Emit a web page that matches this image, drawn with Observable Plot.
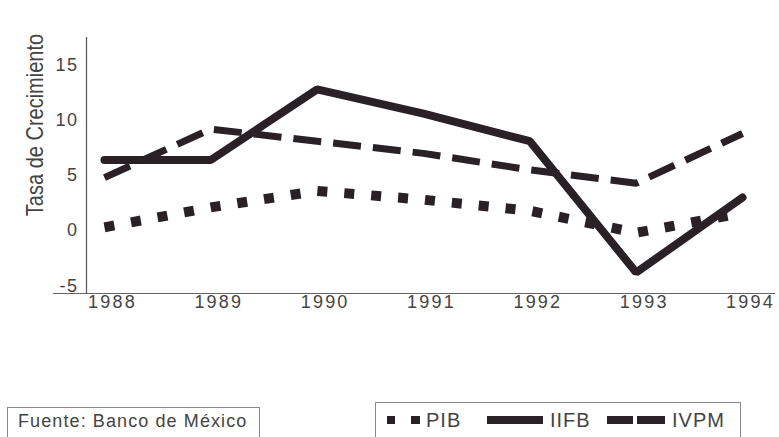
<!DOCTYPE html>
<html>
<head>
<meta charset="utf-8">
<script src="https://cdn.jsdelivr.net/npm/d3@7"></script>
<script src="https://cdn.jsdelivr.net/npm/@observablehq/plot@0.6"></script>
<style>
  html, body { margin: 0; padding: 0; background: #fff; }
  body { width: 779px; height: 437px; overflow: hidden; position: relative; font-family: "Liberation Sans", Arial, sans-serif; color: #444; }
  #chart { position: absolute; left: 0; top: 0; }
  g[aria-label="x-axis tick label"] text { letter-spacing: 2.2px; }
  g[aria-label="y-axis tick label"] text { letter-spacing: 1.5px; }
  #ylabel { position: absolute; left: 35px; top: 125px; font-size: 20px; line-height: 20px; white-space: nowrap; color: #444;
            transform: translate(-50%, -50%) rotate(-90deg) scaleY(1.2); }
  .box { position: absolute; border: 1px solid #8a8a8a; border-bottom: none; box-sizing: border-box; }
  .txt { position: absolute; font-size: 20px; line-height: 20px; letter-spacing: 1px; color: #444; white-space: nowrap; }
  .sw { position: absolute; background: #2a2127; }
</style>
</head>
<body>
<div id="chart"></div>
<div id="ylabel"></div>
<div class="box" style="left:7px; top:407px; width:253px; height:60px;"></div>
<div id="source" class="txt" style="left:18px; top:411px; font-size:18px; letter-spacing:1.1px;"></div>
<div class="box" style="left:375px; top:402px; width:366px; height:60px;"></div>
<div id="legend"></div>
<script>
const years = [1988, 1989, 1990, 1991, 1992, 1993, 1994];
const pib  = [0.3, 2.1, 3.6, 2.8, 1.8, -0.2, 1.6];
const iifb = [6.4, 6.4, 12.8, 10.6, 8.1, -3.8, 3.0];
const ivpm = [4.8, 9.2, 8.1, 7.0, 5.5, 4.3, 8.8];
const yTicks = [-5, 0, 5, 10, 15];
const seriesNames = ["PIB", "IIFB", "IVPM"];
const yLabel = "Tasa de Crecimiento";
const source = "Fuente: Banco de México";

const xDomain = [1987.831, 1994.31];
const yDomain = [-5.7, 17.5];
const ink = "#2a2127";

document.getElementById("source").textContent = source;
document.getElementById("ylabel").textContent = yLabel;

const rows = (vals) => years.map((year, i) => ({year, value: vals[i]}));

const chart = Plot.plot({
  width: 779,
  height: 330,
  marginLeft: 86,
  marginRight: 4,
  marginTop: 37,
  marginBottom: 37,
  style: {fontFamily: "'Liberation Sans', Arial, sans-serif", fontSize: "18px", color: "#444", background: "transparent"},
  x: {domain: xDomain},
  y: {domain: yDomain},
  marks: [
    Plot.axisY({ticks: yTicks, tickFormat: d => String(d), tickSize: 0, tickPadding: 8, fontSize: 18, label: null}),
    Plot.axisX({ticks: years, tickFormat: d => String(d), tickSize: 0, tickPadding: 2, dx: 8, fontSize: 18, label: null}),
    Plot.ruleY([yDomain[0]], {stroke: "#666", strokeWidth: 1.2, insetLeft: -33}),
    Plot.frame({anchor: "left", stroke: "#555", strokeWidth: 1.2}),
    Plot.lineY(rows(ivpm), {x: "year", y: "value", stroke: ink, strokeWidth: 7, strokeDasharray: "28 12", strokeLinecap: "butt"}),
    Plot.lineY(rows(pib), {x: "year", y: "value", stroke: ink, strokeWidth: 10, strokeDasharray: "10 17", strokeLinecap: "butt"}),
    Plot.lineY(rows(iifb), {x: "year", y: "value", stroke: ink, strokeWidth: 8, strokeLinejoin: "miter"})
  ]
});
document.getElementById("chart").appendChild(chart);

// Legend (HTML, below the SVG)
const legend = document.getElementById("legend");
const legendItems = [
  {name: seriesNames[0], swatches: [[387, 8], [411, 9]], textLeft: 426},
  {name: seriesNames[1], swatches: [[487, 56]], textLeft: 550},
  {name: seriesNames[2], swatches: [[607, 26], [637, 28]], textLeft: 672}
];
for (const item of legendItems) {
  for (const [left, w] of item.swatches) {
    const s = document.createElement("div");
    s.className = "sw";
    s.style.left = left + "px";
    s.style.top = "416px";
    s.style.width = w + "px";
    s.style.height = "8px";
    legend.appendChild(s);
  }
  const t = document.createElement("div");
  t.className = "txt";
  t.style.left = item.textLeft + "px";
  t.style.top = "410px";
  t.textContent = item.name;
  legend.appendChild(t);
}
</script>
</body>
</html>
